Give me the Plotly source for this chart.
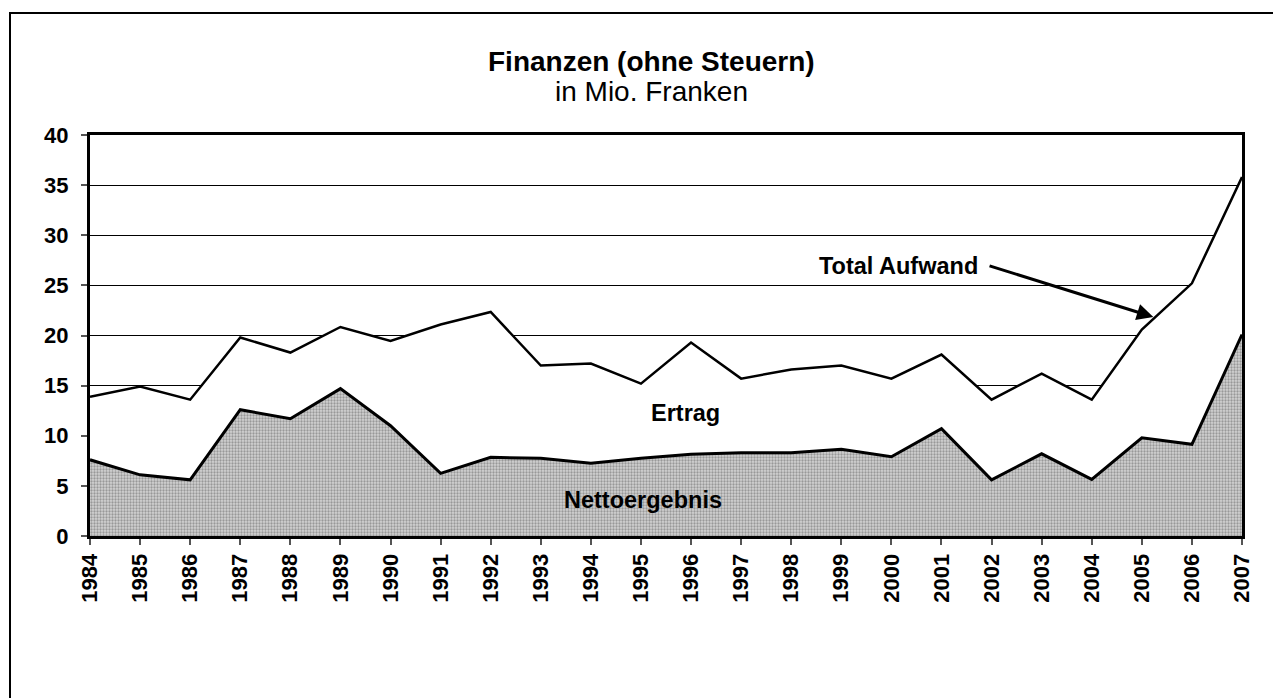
import plotly.graph_objects as go

years = list(range(1984, 2008))
total_aufwand = [13.9, 14.9, 13.6, 19.8, 18.3, 20.85, 19.45, 21.1, 22.35, 17.0, 17.2, 15.2,
                 19.3, 15.7, 16.6, 17.0, 15.7, 18.1, 13.6, 16.2, 13.6, 20.6, 25.2, 35.8]
nettoergebnis = [7.6, 6.1, 5.6, 12.6, 11.7, 14.7, 11.0, 6.25, 7.85, 7.75, 7.25, 7.75,
                 8.15, 8.3, 8.3, 8.65, 7.9, 10.7, 5.6, 8.2, 5.65, 9.8, 9.15, 20.1]
y_ticks = [0, 5, 10, 15, 20, 25, 30, 35, 40]

FONT = "Arial, Liberation Sans, sans-serif"

# plot area in figure pixels
L, R, T, B = 82, 1234, 127, 528
W, H = 1281, 698
PW, PH = R - L, B - T

fig = go.Figure()
fig.add_trace(go.Scatter(x=years, y=total_aufwand, mode="lines", fill="tozeroy",
                         fillcolor="white", line=dict(color="black", width=2.5),
                         hoverinfo="skip", showlegend=False))
fig.add_trace(go.Scatter(x=years, y=nettoergebnis, mode="lines", fill="tozeroy",
                         fillcolor="#bdbdbd",
                         fillpattern=dict(shape=".", fgcolor="#5e5e5e", bgcolor="#d2d2d2",
                                          size=3, solidity=0.45),
                         line=dict(color="black", width=3),
                         hoverinfo="skip", showlegend=False))

fig.update_layout(
    width=W, height=H,
    margin=dict(l=L, r=W - R, t=T, b=H - B, autoexpand=False),
    paper_bgcolor="white", plot_bgcolor="white",
    font=dict(family=FONT, color="black"),
    xaxis=dict(range=[1984, 2007], tickmode="array", tickvals=years,
               ticktext=[str(y) for y in years], tickangle=-90,
               tickfont=dict(family=FONT, size=22, color="black", weight="bold"),
               ticks="outside", ticklen=6, tickcolor="#555", tickwidth=1.5,
               showgrid=False, showline=True, linecolor="black", linewidth=3,
               mirror=True, zeroline=False, automargin=False, ticklabelstandoff=0),
    yaxis=dict(range=[0, 40], tickmode="array", tickvals=y_ticks,
               tickfont=dict(family=FONT, size=22, color="black", weight="bold"),
               ticks="outside", ticklen=6, tickcolor="#555", tickwidth=1.5,
               showgrid=True, gridcolor="black", gridwidth=1,
               showline=True, linecolor="black", linewidth=3,
               mirror=True, zeroline=False, automargin=False, ticklabelstandoff=8),
    annotations=[
        dict(text="<b>Finanzen (ohne Steuern)</b>", xref="paper", yref="paper",
             x=0.487, y=1.184, xanchor="center", yanchor="middle", showarrow=False,
             font=dict(family=FONT, size=28, color="black")),
        dict(text="in Mio. Franken", xref="paper", yref="paper",
             x=0.487, y=1.108, xanchor="center", yanchor="middle", showarrow=False,
             font=dict(family=FONT, size=28, color="black")),
        dict(text="<b>Ertrag</b>", xref="x", yref="y", x=1995.88, y=12.3,
             showarrow=False, font=dict(family=FONT, size=23.5, color="black")),
        dict(text="<b>Nettoergebnis</b>", xref="x", yref="y", x=1995.04, y=3.55,
             showarrow=False, font=dict(family=FONT, size=23.5, color="black")),
        dict(text="<b>Total Aufwand</b>", xref="x", yref="y", x=2000.15, y=26.95,
             showarrow=False, font=dict(family=FONT, size=23.5, color="black")),
        dict(text="", xref="x", yref="y", x=2005.23, y=21.84,
             axref="x", ayref="y", ax=2001.93, ay=26.99,
             showarrow=True, arrowhead=2, arrowsize=1.1, arrowwidth=3,
             arrowcolor="black"),
    ],
    shapes=[
        dict(type="rect", xref="paper", yref="paper",
             x0=(2 - L) / PW, x1=(1320 - L) / PW,
             y0=(B - 740) / PH, y1=(B - 5) / PH,
             line=dict(color="black", width=2), fillcolor="rgba(0,0,0,0)",
             layer="below"),
    ],
)

fig.write_html("out.html")
